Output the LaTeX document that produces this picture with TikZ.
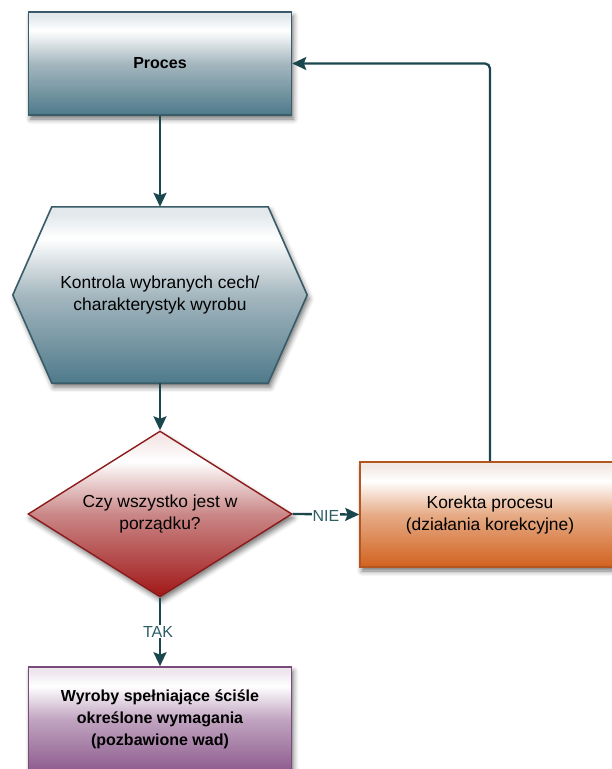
\documentclass[tikz,border=0pt]{standalone}
\usepackage{fontspec}
\setmainfont{Liberation Sans}
\usetikzlibrary{shapes.geometric,shadows.blur,arrows.meta,backgrounds}

% palette
\definecolor{tealB}{HTML}{4E7A8B}
\definecolor{tealM}{HTML}{A5B7BF}
\definecolor{tealT}{HTML}{E2E8EB}
\definecolor{tealE}{HTML}{3A5C68}
\definecolor{redB}{HTML}{A11717}
\definecolor{redM}{HTML}{CA8787}
\definecolor{redT}{HTML}{F4E6E6}
\definecolor{redE}{HTML}{8C1C1C}
\definecolor{oraB}{HTML}{D2621F}
\definecolor{oraM}{HTML}{E6AB86}
\definecolor{oraT}{HTML}{F1E9E3}
\definecolor{oraE}{HTML}{B3561F}
\definecolor{purB}{HTML}{8D5B8D}
\definecolor{purM}{HTML}{C0A4C0}
\definecolor{purT}{HTML}{EDE6ED}
\definecolor{purE}{HTML}{7A4B7A}
\definecolor{wire}{HTML}{1A464D}
\definecolor{wiretext}{HTML}{2D5F67}

% glossy vertical fills: dark at the bottom, white highlight near the top
\pgfdeclareverticalshading{tealfill}{100bp}{color(0bp)=(tealB); color(25bp)=(tealB); color(50bp)=(tealM); color(66bp)=(white); color(73bp)=(tealT); color(100bp)=(tealT)}
\pgfdeclareverticalshading{redfill}{100bp}{color(0bp)=(redB); color(25bp)=(redB); color(50bp)=(redM); color(66bp)=(white); color(73bp)=(redT); color(100bp)=(redT)}
\pgfdeclareverticalshading{orafill}{100bp}{color(0bp)=(oraB); color(25bp)=(oraB); color(50bp)=(oraM); color(66bp)=(white); color(73bp)=(oraT); color(100bp)=(oraT)}
\pgfdeclareverticalshading{purfill}{100bp}{color(0bp)=(purB); color(25bp)=(purB); color(50bp)=(purM); color(66bp)=(white); color(73bp)=(purT); color(100bp)=(purT)}

\tikzset{
  softshadow/.style={blur shadow={shadow xshift=2pt, shadow yshift=-4pt,
      shadow blur radius=5pt, shadow opacity=55}},
  bodytext/.style={font=\fontsize{17.4}{22}\selectfont, align=center},
  boldtext/.style={font=\bfseries\fontsize{16}{22}\selectfont, align=center},
  procbox/.style={rectangle, draw=tealE, line width=1.6pt, shade, shading=tealfill,
      softshadow, minimum width=263pt, minimum height=103pt, inner sep=0pt, boldtext},
  hexholder/.style={rectangle, minimum width=294pt, minimum height=176pt,
      inner sep=0pt, bodytext},
  hexfill/.style={draw=tealE, line width=1.6pt, shade, shading=tealfill, softshadow},
  decision/.style={diamond, aspect=1.6, draw=redE, line width=1.4pt, shade,
      shading=redfill, softshadow, minimum width=264pt, minimum height=166pt,
      inner sep=0pt, bodytext},
  fixbox/.style={rectangle, draw=oraE, line width=1.6pt, shade, shading=orafill,
      softshadow, minimum width=260pt, minimum height=105pt, inner sep=0pt, bodytext},
  okbox/.style={rectangle, draw=purE, line width=1.6pt, shade, shading=purfill,
      softshadow, minimum width=263pt, minimum height=105pt, inner sep=0pt, boldtext},
  flow/.style={draw=wire, line width=2.3pt,
      -{Stealth[length=14pt, width=13pt, inset=2.5pt]}},
  flowlabel/.style={fill=white, text=wiretext, font=\fontsize{16}{18}\selectfont,
      inner sep=1pt},
}

\begin{document}
\begin{tikzpicture}[x=1pt, y=1pt]
  \useasboundingbox (0,0) rectangle (611,-769);

  % nodes
  \node[procbox]   (proc) at (160,-63.5) {Proces};
  \node[hexholder] (ctrl) at (160,-295)  {Kontrola wybranych cech/\\charakterystyk wyrobu};
  \node[decision]  (dec)  at (160,-514)  {Czy wszystko jest w\\porządku?};
  \node[fixbox]    (fix)  at (490,-514.5) {Korekta procesu\\(działania korekcyjne)};
  \node[okbox]     (ok)   at (160,-719.5) {Wyroby spełniające ściśle\\określone wymagania\\(pozbawione wad)};

  % hexagonal outline behind the inspection text
  \begin{pgfonlayer}{background}
    \path[hexfill] ([xshift=39pt]ctrl.north west) -- ([xshift=-39pt]ctrl.north east)
      -- (ctrl.east) -- ([xshift=-39pt]ctrl.south east)
      -- ([xshift=39pt]ctrl.south west) -- (ctrl.west) -- cycle;
  \end{pgfonlayer}

  % connectors
  \draw[flow] (proc.south) -- (ctrl.north);
  \draw[flow] (ctrl.south) -- (dec.north);
  \draw[flow] (dec.east) -- node[flowlabel, yshift=-2pt] {NIE} (fix.west);
  \draw[flow] (dec.south) -- node[flowlabel, xshift=-2pt] {TAK} (ok.north);
  \draw[flow, rounded corners=5pt] (fix.north) |- (proc.east);
\end{tikzpicture}
\end{document}
